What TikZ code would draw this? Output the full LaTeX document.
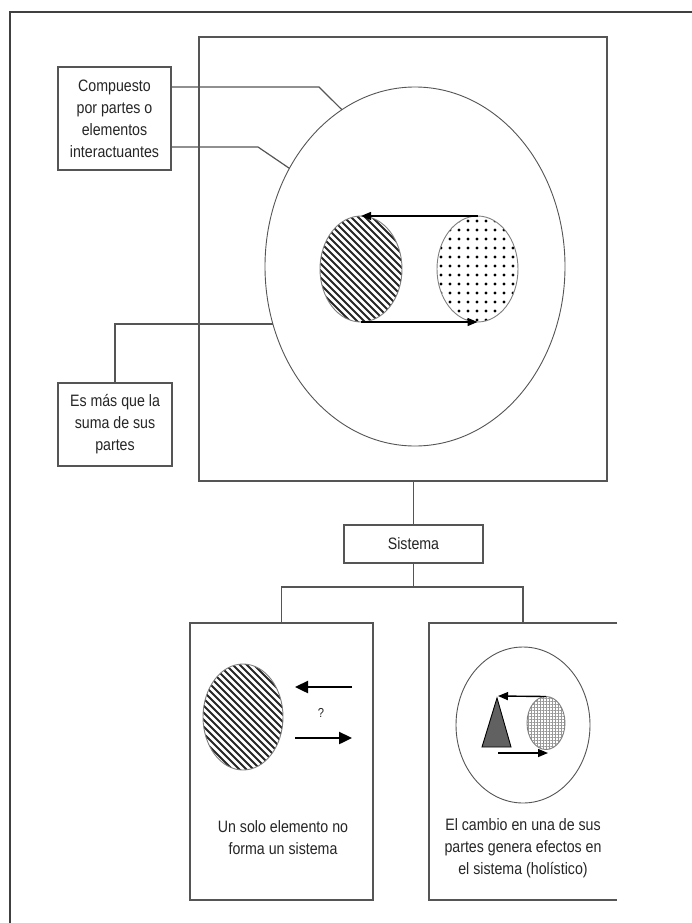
\documentclass[tikz,border=0pt]{standalone}
\usepackage{fontspec}
\newfontfamily\lbl[FakeStretch=0.86]{Liberation Sans}
\usetikzlibrary{arrows.meta,patterns.meta,shapes.geometric}
\definecolor{ln}{HTML}{555555}
\definecolor{tx}{HTML}{262626}
\begin{document}
\begin{tikzpicture}[x=1pt,y=1pt,
  box/.style={draw=ln, line width=1.4pt, inner sep=0pt, outer sep=0pt, align=center, text=tx, font=\lbl\fontsize{16.5}{22}\selectfont},
  lead/.style={draw=ln, line width=1.2pt},
  oval/.style={ellipse, draw=ln, line width=0.9pt, inner sep=0pt, outer sep=0pt},
  arr/.style={draw=black, line width=1.4pt, -{Triangle[length=10pt,width=8pt]}},
  bigarr/.style={draw=black, line width=2.4pt, -{Triangle[length=13pt,width=12pt]}},
  lab/.style={text=tx, align=center, font=\lbl\fontsize{16.5}{22}\selectfont},
  stripe/.style={draw=black!85, line width=2.1pt},
]
\useasboundingbox (0,0) rectangle (692,-923);
\fill[white] (0,0) rectangle (692,-923);
% outer frame (top and left only)
\draw[line width=2.6pt, draw=black!75, line join=miter] (692,-12) -- (10,-12) -- (10,-923);

% big system rectangle and ellipse
\node[box, minimum width=408, minimum height=444] (sys) at (403,-259) {};
\node[oval, minimum width=300, minimum height=359] (whole) at (415,-266.5) {};

% hatched part
\begin{scope}
  \clip (361,-269) ellipse [x radius=41, y radius=53];
  \foreach \k in {-112,-105,...,112} {
    \draw[stripe] (361+\k-60,-269+60) -- ++(120,-120);
  }
\end{scope}
\node[oval, draw=gray, minimum width=82, minimum height=106] (hh) at (361,-269) {};
\node[oval, draw=gray, pattern={Dots[distance=9pt,radius=1.7pt]}, minimum width=81, minimum height=106] (dd) at (477.5,-269) {};
\draw[arr] (dd.north) -- (hh.north);
\draw[arr] (hh.south) -- (dd.south);

% labels on the left
\node[box, minimum width=113, minimum height=103] (comp) at (114.5,-118.5)
  {Compuesto\\por partes o\\elementos\\interactuantes};
\draw[lead] (comp.east |- 0,-87) -- (319,-87) -- (whole.115);
\draw[lead] (comp.east |- 0,-147) -- (258,-147) -- (whole.142);

\node[box, minimum width=114, minimum height=83] (mas) at (115,-424.5)
  {Es más que la\\suma de sus\\partes};
\draw[lead] (whole.202) -- (mas.north |- whole.202) -- (mas.north);

% Sistema
\node[box, minimum width=139, minimum height=38] (sis) at (413.5,-544) {Sistema};
\draw[lead] (sis.north |- sys.south) -- (sis.north);
\coordinate (jn) at (413.5,-587);
\draw[lead] (sis.south) -- (jn);

% bottom left box
\node[box, minimum width=183, minimum height=277] (lbox) at (281.5,-761.5) {};
\begin{scope}
  \clip (243,-717) ellipse [x radius=40, y radius=53];
  \foreach \k in {-112,-105,...,112} {
    \draw[stripe] (243+\k-60,-717+60) -- ++(120,-120);
  }
\end{scope}
\node[oval, draw=gray, minimum width=80, minimum height=106] (lh) at (243,-717) {};
\coordinate (la1) at (352,-687);
\coordinate (la2) at (295,-687);
\coordinate (lb1) at (295,-738);
\coordinate (lb2) at (352,-738);
\draw[bigarr] (la1) -- (la2);
\draw[bigarr] (lb1) -- (lb2);
\node[text=tx, font=\lbl\fontsize{13}{15}\selectfont] (q) at (321,-713) {?};
\node[lab] (lt) at (283,-837.5) {Un solo elemento no\\forma un sistema};

% bottom right box (open on the right)
\node[minimum width=188, minimum height=277, inner sep=0pt, outer sep=0pt] (rbox) at (523,-761.5) {};
\draw[draw=ln, line width=1.4pt] (rbox.north east) -- (rbox.north west) -- (rbox.south west) -- (rbox.south east);
\node[oval, minimum width=134, minimum height=156] (rc) at (523,-725) {};
\draw[draw=black, line width=0.9pt, fill=black!62] (497,-698) -- (482,-747) -- (511,-747) -- cycle;
\node[oval, draw=gray, pattern={Hatch[distance=3pt,line width=0.35pt]}, pattern color=gray!80, minimum width=38, minimum height=53] (sc) at (546,-723) {};
\coordinate (ra) at (498,-696);
\coordinate (rb1) at (498,-753);
\coordinate (rb2) at (548,-753);
\draw[arr] (sc.north) -- (ra);
\draw[arr] (rb1) -- (rb2);
\node[lab] (rt) at (523,-848.5) {El cambio en una de sus\\partes genera efectos en\\el sistema (holístico)};

% connectors from Sistema to the two boxes
\draw[lead] (lbox.north) |- (jn) -| (rbox.north);
\end{tikzpicture}
\end{document}
